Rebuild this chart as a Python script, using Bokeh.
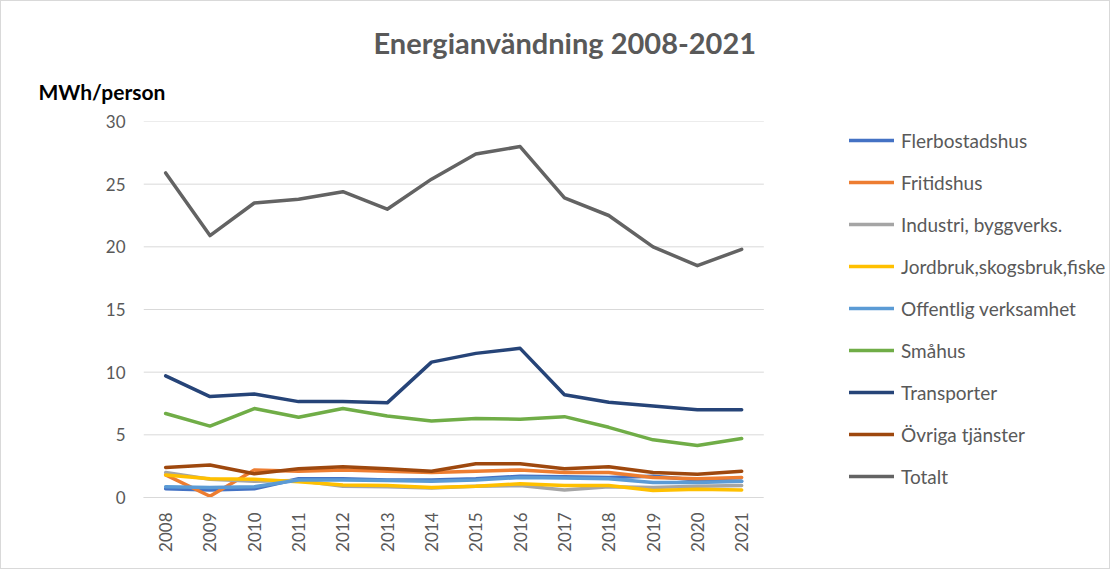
import math
from bokeh.plotting import figure
from bokeh.models import Range1d, FixedTicker, Legend, LegendItem, Title
from bokeh.embed import file_html
from bokeh.resources import INLINE

years = [2008, 2009, 2010, 2011, 2012, 2013, 2014, 2015, 2016, 2017, 2018, 2019, 2020, 2021]
year_labels = [str(y) for y in years]

flerbostadshus = [0.7, 0.6, 0.7, 1.5, 1.5, 1.4, 1.4, 1.5, 1.7, 1.65, 1.6, 1.7, 1.4, 1.3]
fritidshus = [1.8, 0.1, 2.2, 2.1, 2.2, 2.1, 2.0, 2.1, 2.2, 2.0, 2.0, 1.6, 1.5, 1.6]
industri = [2.0, 1.45, 1.3, 1.35, 0.9, 0.85, 0.75, 0.9, 0.95, 0.6, 0.85, 0.8, 0.9, 0.95]
jordbruk = [1.8, 1.5, 1.45, 1.25, 1.0, 0.95, 0.8, 0.9, 1.1, 0.95, 0.95, 0.55, 0.65, 0.6]
offentlig = [0.85, 0.8, 0.85, 1.4, 1.4, 1.35, 1.3, 1.4, 1.6, 1.55, 1.5, 1.2, 1.2, 1.3]
smahus = [6.7, 5.7, 7.1, 6.4, 7.1, 6.5, 6.1, 6.3, 6.25, 6.45, 5.6, 4.6, 4.15, 4.7]
transporter = [9.7, 8.05, 8.25, 7.65, 7.65, 7.55, 10.8, 11.5, 11.9, 8.2, 7.6, 7.3, 7.0, 7.0]
ovriga = [2.4, 2.6, 1.9, 2.3, 2.45, 2.3, 2.1, 2.7, 2.7, 2.3, 2.45, 2.0, 1.85, 2.1]
totalt = [25.9, 20.9, 23.5, 23.8, 24.4, 23.0, 25.4, 27.4, 28.0, 23.9, 22.5, 20.0, 18.5, 19.8]

series_names = ["Flerbostadshus", "Fritidshus", "Industri, byggverks.",
                "Jordbruk,skogsbruk,fiske", "Offentlig verksamhet", "Småhus",
                "Transporter", "Övriga tjänster", "Totalt"]
series_values = [flerbostadshus, fritidshus, industri, jordbruk, offentlig,
                 smahus, transporter, ovriga, totalt]
series_colors = ["#4472C4", "#ED7D31", "#A5A5A5", "#FFC000", "#5B9BD5",
                 "#70AD47", "#264478", "#9E480E", "#636363"]

title_text = "Energianvändning 2008-2021"
unit_text = "MWh/person"
y_ticks = [0, 5, 10, 15, 20, 25, 30]

FONT = "Lato"
TXT = "#595959"

xs = list(range(len(years)))

# layout geometry (pixels)
W, H = 1110, 569
LEFT, TOP, BOTTOM = 142, 120, 73
CAT_PX = 44.31
frame_w = W - LEFT
x_start = -0.5
x_end = x_start + frame_w / CAT_PX
data_x0, data_x1 = -0.5, len(years) - 0.5

p = figure(width=W, height=H, output_backend="svg", toolbar_location=None,
           x_range=Range1d(x_start, x_end), y_range=Range1d(0, 30),
           min_border_left=LEFT, min_border_right=0, min_border_top=TOP,
           min_border_bottom=BOTTOM)
p.title.text = title_text
p.title.align = "left"
p.title.offset = 230
p.title.text_font = FONT
p.title.text_font_size = "29px"
p.title.text_font_style = "bold"
p.title.text_color = TXT
p.title.standoff = 0

unit = Title(text=unit_text, align="left", offset=-105, text_font=FONT,
             text_font_size="21px", text_font_style="bold", text_color="black",
             standoff=35)
p.add_layout(unit, "above")

p.styles = {"border": "1px solid #d9d9d9"}
p.outline_line_color = None
p.background_fill_color = "white"
p.border_fill_color = "white"

# horizontal gridlines limited to the plot area
p.segment(x0=[data_x0] * len(y_ticks), x1=[data_x1] * len(y_ticks),
          y0=y_ticks, y1=y_ticks, line_color="#d9d9d9", line_width=1)

items = []
for name, vals, col in zip(series_names, series_values, series_colors):
    r = p.line(xs, vals, line_color=col, line_width=3.5, line_join="round", line_cap="round")
    items.append(LegendItem(label=name, renderers=[r]))

# axes
p.yaxis.ticker = FixedTicker(ticks=y_ticks)
p.yaxis.axis_line_color = None
p.yaxis.major_tick_line_color = None
p.yaxis.minor_tick_line_color = None
p.yaxis.major_label_standoff = 12
p.yaxis.major_label_text_font = FONT
p.yaxis.major_label_text_font_size = "17px"
p.yaxis.major_label_text_color = TXT

p.xaxis.ticker = FixedTicker(ticks=xs)
p.xaxis.bounds = (data_x0, data_x1)
p.xaxis.major_label_overrides = {i: s for i, s in zip(xs, year_labels)}
p.xaxis.axis_line_color = "#d9d9d9"
p.xaxis.major_tick_line_color = None
p.xaxis.minor_tick_line_color = None
p.xaxis.major_label_orientation = math.pi / 2
p.xaxis.major_label_standoff = 9
p.xaxis.major_label_text_font = FONT
p.xaxis.major_label_text_font_size = "17px"
p.xaxis.major_label_text_color = TXT

p.xgrid.grid_line_color = None
p.ygrid.grid_line_color = None

legend = Legend(items=items, location=(706, 9), orientation="vertical",
                glyph_width=45, glyph_height=24, label_height=24, spacing=18,
                padding=0, margin=0, label_standoff=7,
                label_text_font=FONT, label_text_font_size="19px",
                label_text_color=TXT, border_line_color=None,
                background_fill_alpha=0)
p.add_layout(legend, "center")

open("out.html", "w").write(file_html(p, INLINE))
